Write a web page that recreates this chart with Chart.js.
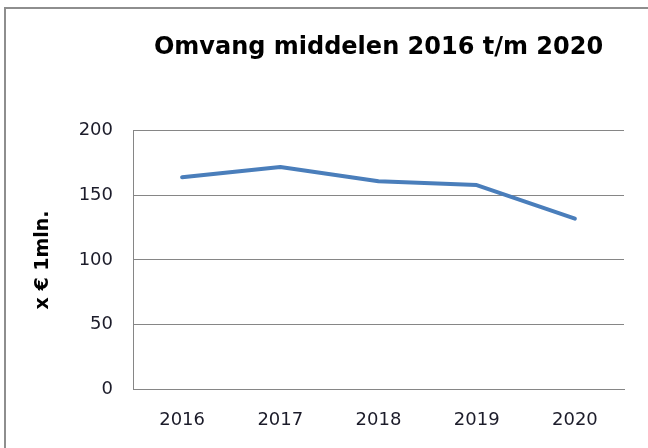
<!DOCTYPE html>
<html>
<head>
<meta charset="utf-8">
<script src="https://cdn.jsdelivr.net/npm/chart.js@4"></script>
<style>
  html, body { margin: 0; padding: 0; background: #fff; }
  #wrap { width: 648px; height: 448px; }
</style>
</head>
<body>
<div id="wrap"><canvas id="myChart" width="648" height="448"></canvas></div>
<script>
const years = ["2016", "2017", "2018", "2019", "2020"]
const middelen = [164, 172, 161, 158, 132]
const yTicks = [0, 50, 100, 150, 200]

const ctx = document.getElementById("myChart").getContext("2d")
const fontFamily = "'DejaVu Sans', sans-serif"

// grey frame around the chart like the Excel chart object
const frame = {
    id: "frame",
    beforeDraw(chart) {
        const c = chart.ctx
        c.save()
        c.strokeStyle = "#8e8e8e"
        c.lineWidth = 2
        c.strokeRect(5, 8, 700, 500)
        c.restore()
    }
}

new Chart(ctx, {
    type: "line",
    data: {
        labels: years,
        datasets: [{
            label: "Omvang middelen",
            data: middelen,
            borderColor: "#4a7ebb",
            borderWidth: 4,
            borderCapStyle: "round",
            borderJoinStyle: "round",
            pointRadius: 0,
            tension: 0,
            fill: false
        }]
    },
    options: {
        responsive: false,
        animation: false,
        layout: { padding: { left: 0, right: 24, top: 0, bottom: 0 } },
        plugins: {
            legend: { display: false },
            tooltip: { enabled: false },
            title: {
                display: true,
                text: "Omvang middelen 2016 t/m 2020",
                fullSize: false,
                color: "#000",
                font: { family: fontFamily, size: 24, weight: "bold" },
                padding: { top: 33, bottom: 69 }
            }
        },
        scales: {
            x: {
                offset: true,
                grid: { display: false },
                border: { display: true, color: "#868686", width: 1 },
                ticks: { color: "#1c1c2a", padding: 13, font: { family: fontFamily, size: 18 } },
                afterFit: s => { s.height = 59 }
            },
            y: {
                min: 0,
                max: 200,
                afterBuildTicks: s => { s.ticks = yTicks.map(v => ({ value: v })) },
                grid: { color: "#868686", lineWidth: 1, drawTicks: false },
                border: { display: true, color: "#868686", width: 1 },
                ticks: { color: "#1c1c2a", padding: 20, font: { family: fontFamily, size: 18 } },
                title: {
                    display: true,
                    text: "x € 1mln.",
                    color: "#000",
                    font: { family: fontFamily, size: 19, weight: "bold" },
                    padding: { top: 32, bottom: 0 }
                },
                afterFit: s => { s.width = 133 }
            }
        }
    },
    plugins: [frame]
})
</script>
</body>
</html>
